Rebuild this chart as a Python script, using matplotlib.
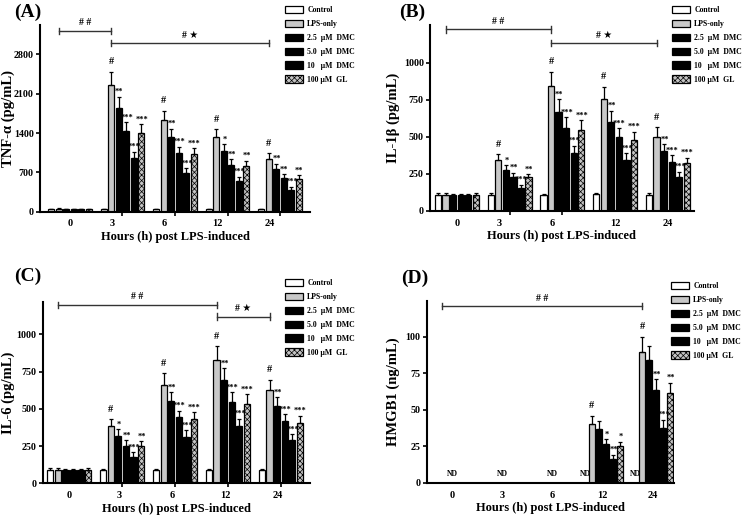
import numpy as np
import matplotlib
matplotlib.use("Agg")
import matplotlib.pyplot as plt
from matplotlib.patches import Patch

plt.rcParams['font.family'] = ['Liberation Serif', 'DejaVu Sans']
plt.rcParams['font.weight'] = 'bold'
plt.rcParams['hatch.linewidth'] = 0.5

groups = ['0', '3', '6', '12', '24']
series = ['Control', 'LPS-only', '2.5  \u03bcM  DMC', '5.0  \u03bcM  DMC', '10   \u03bcM  DMC', '100 \u03bcM  GL']

# ---------------- data (rows: time groups, cols: series) ----------------
tnf_vals = [[45, 50, 45, 45, 45, 45],
            [40, 2250, 1850, 1440, 960, 1410],
            [40, 1630, 1330, 1040, 690, 1020],
            [40, 1325, 1075, 840, 555, 820],
            [40, 940, 765, 600, 390, 580]]
tnf_errs = [[8, 8, 8, 8, 8, 8],
            [8, 240, 200, 150, 110, 150],
            [8, 170, 150, 115, 85, 110],
            [8, 140, 125, 95, 70, 90],
            [8, 100, 85, 65, 55, 70]]
tnf_stars = [['', '', '', '', '', ''],
             ['', '#', '**', '***', '***', '***'],
             ['', '#', '**', '***', '***', '***'],
             ['', '#', '*', '**', '***', '**'],
             ['', '#', '**', '**', '***', '**']]

il1_vals = [[108, 110, 105, 105, 105, 108],
            [108, 345, 277, 231, 157, 227],
            [105, 842, 669, 561, 389, 546],
            [112, 753, 602, 497, 344, 478],
            [108, 501, 404, 332, 231, 321]]
il1_errs = [[12, 12, 12, 12, 12, 12],
            [10, 38, 32, 27, 20, 22],
            [10, 97, 84, 70, 51, 67],
            [10, 85, 74, 60, 45, 56],
            [10, 63, 45, 45, 34, 38]]
il1_stars = [['', '', '', '', '', ''],
             ['', '#', '*', '**', '***', '**'],
             ['', '#', '**', '***', '***', '***'],
             ['', '#', '**', '***', '***', '***'],
             ['', '#', '**', '***', '***', '***']]

il6_vals = [[90, 92, 88, 88, 88, 90],
            [90, 384, 319, 252, 178, 248],
            [88, 663, 554, 442, 312, 429],
            [90, 830, 693, 548, 385, 535],
            [88, 625, 520, 415, 290, 405]]
il6_errs = [[10, 10, 10, 10, 10, 10],
            [8, 47, 43, 38, 30, 33],
            [8, 74, 58, 45, 45, 47],
            [8, 90, 78, 62, 48, 62],
            [8, 70, 58, 50, 40, 48]]
il6_stars = [['', '', '', '', '', ''],
             ['', '#', '*', '**', '***', '**'],
             ['', '#', '**', '***', '***', '***'],
             ['', '#', '**', '***', '***', '***'],
             ['', '#', '**', '***', '***', '***']]

hmg_vals = [[0, 0, 0, 0, 0, 0],
            [0, 0, 0, 0, 0, 0],
            [0, 0, 0, 0, 0, 0],
            [0, 40.4, 37.0, 26.7, 16.4, 25.1],
            [0, 89.9, 84.5, 63.7, 37.7, 61.4]]
hmg_errs = [[0, 0, 0, 0, 0, 0],
            [0, 0, 0, 0, 0, 0],
            [0, 0, 0, 0, 0, 0],
            [0, 5.5, 5.7, 3.2, 3.0, 3.2],
            [0, 10.3, 9.5, 7.5, 5.5, 7.3]]
hmg_stars = [['', '', '', '', '', ''],
             ['', '', '', '', '', ''],
             ['', '', '', '', '', ''],
             ['', '#', '', '*', '**', '*'],
             ['', '#', '', '**', '***', '**']]
hmg_nd = [[True] * 6, [True] * 6, [True] * 6,
          [True, False, False, False, False, False],
          [True, False, False, False, False, False]]

face = ['white', '#c8c8c8', 'black', 'black', 'black', '#c4c4c4']
hatch = [None, None, None, None, None, 'xxxxxx']

fig = plt.figure(figsize=(7.45, 5.26), dpi=100)
W, H = 745.0, 526.0


def add_ax(l, r, b, t):
    return fig.add_axes([l / W, 1 - b / H, (r - l) / W, (b - t) / H])


def panel(ax, vals, errs, stars, ylim, yticks, xlim, label_off, ylabel,
          brackets, pitch=0.143, bw=0.118, nd=None, ax_h=186.0):
    vals = np.array(vals, dtype=float)
    errs = np.array(errs, dtype=float)
    ng, ns = vals.shape
    gx = np.arange(ng)
    for j in range(ns):
        x = gx + (j - (ns - 1) / 2) * pitch
        mask = np.ones(ng, bool) if nd is None else ~np.array([nd[g][j] for g in range(ng)])
        ax.bar(x[mask], vals[mask, j], width=bw, color=face[j], edgecolor='black',
               linewidth=0.9, hatch=hatch[j], zorder=2)
        ax.errorbar(x[mask], vals[mask, j], yerr=[np.zeros(mask.sum()), errs[mask, j]],
                    fmt='none', ecolor='black', elinewidth=0.9, capsize=1.6, capthick=0.9, zorder=3)
        for g in range(ng):
            s = stars[g][j]
            if s and mask[g]:
                top = vals[g, j] + errs[g, j]
                if s == '#':
                    ax.annotate(s, (x[g], top), xytext=(0, 4), textcoords='offset points',
                                ha='center', va='bottom', fontsize=7.5, fontweight='bold')
                else:
                    ax.annotate(s, (x[g] + 0.01, top), xytext=(0, 0.5), textcoords='offset points',
                                ha='center', va='bottom', fontsize=6, fontweight='bold')
            if nd is not None and nd[g][j] and (j == 0):
                xx = x[g] if g >= 3 else gx[g]
                ax.text(xx, ylim[1] * 0.048, 'ND', ha='center', va='center', fontsize=5.5,
                        fontweight='bold')
    ax.set_xlim(*xlim)
    ax.set_ylim(*ylim)
    ax.set_yticks(yticks)
    ax.set_yticklabels([str(v) for v in yticks], fontsize=7.2, fontweight='bold')
    ax.set_xticks(gx, minor=True)
    ax.set_xticks(gx + np.array(label_off))
    ax.set_xticklabels(groups, fontsize=7.5, fontweight='bold')
    ax.tick_params(axis='x', which='major', length=0, pad=5.5)
    ax.tick_params(axis='x', which='minor', length=3, width=1.2, direction='out')
    ax.tick_params(axis='y', length=3, width=1.2, pad=1.5)
    for sp in ['top', 'right']:
        ax.spines[sp].set_visible(False)
    for sp in ['left', 'bottom']:
        ax.spines[sp].set_linewidth(1.5)
    ax.set_xlabel('Hours (h) post LPS-induced', fontsize=9, fontweight='bold', labelpad=2)
    ax.set_ylabel(ylabel, fontsize=10.5, fontweight='bold')
    # brackets
    dy = (ylim[1] - ylim[0]) / ax_h * 3.2
    for (g1, g2, yb, txt) in brackets:
        x1 = g1 + (1 - 2.5) * pitch
        x2 = g2 + (1 - 2.5) * pitch
        ax.plot([x1, x2], [yb, yb], color='#333333', lw=1.0, clip_on=False)
        for xe in (x1, x2):
            ax.plot([xe, xe], [yb - dy, yb + dy], color='#333333', lw=1.0, clip_on=False)
        ax.annotate(txt, ((x1 + x2) / 2, yb), xytext=(0, 2.5), textcoords='offset points',
                    ha='center', va='bottom', fontsize=7, fontweight='bold', annotation_clip=False)
    handles = [Patch(facecolor=face[j], edgecolor='black', linewidth=0.9, hatch=hatch[j])
               for j in range(ns)]
    return handles


def legend(handles, x_px, y_px):
    fig.legend(handles, series, loc='upper left',
               bbox_to_anchor=(x_px / W, 1 - y_px / H), frameon=False,
               prop={'family': ['Liberation Serif'], 'weight': 'bold', 'size': 5.6},
               handlelength=2.35, handleheight=1.05, handletextpad=0.5,
               labelspacing=0.72, borderpad=0, borderaxespad=0)


def letter(text, x_px, y_px):
    fig.text(x_px / W, 1 - y_px / H, text, fontsize=14, fontweight='bold',
             ha='left', va='center')


axA = add_ax(40, 310, 211.7, 25)
hA = panel(axA, tnf_vals, tnf_errs, tnf_stars, (0, 3325), [0, 700, 1400, 2100, 2800],
           (-0.57, 4.57), [0, -0.2, -0.2, -0.2, -0.2], 'TNF-\u03b1 (pg/mL)',
           [(0, 1, 3219, '# #'), (1, 4, 3005, '# \u2605')], ax_h=186.7)
axA.yaxis.set_label_coords(-0.094, 0.5)
legend(hA, 285, 6)
letter('(A)', 14, 12)

axB = add_ax(430, 693.7, 211, 25)
hB = panel(axB, il1_vals, il1_errs, il1_stars, (0, 1253), [0, 250, 500, 750, 1000],
           (-0.51, 4.49), [0, -0.2, -0.2, 0, 0], 'IL-1\u03b2 (pg/mL)',
           [(0, 2, 1224, '# #'), (2, 4, 1130, '# \u2605')], ax_h=186)
axB.yaxis.set_label_coords(-0.112, 0.5)
legend(hB, 672, 6)
letter('(B)', 399, 12)

axC = add_ax(42.7, 310, 483.3, 301.5)
hC = panel(axC, il6_vals, il6_errs, il6_stars, (0, 1220), [0, 250, 500, 750, 1000],
           (-0.5, 4.55), [0, -0.05, -0.05, -0.05, -0.05], 'IL-6 (pg/mL)',
           [(0, 3, 1197, '# #'), (3, 4, 1119, '# \u2605')], ax_h=181.8)
axC.yaxis.set_label_coords(-0.105, 0.5)
legend(hC, 285, 279)
letter('(C)', 14, 276)

axD = add_ax(427, 673.7, 483, 301.3)
hD = panel(axD, hmg_vals, hmg_errs, hmg_stars, (0, 124.4), [0, 25, 50, 75, 100],
           (-0.5, 4.42), [0, 0, 0, 0, 0], 'HMGB1 (ng/mL)',
           [(0, 4, 121, '# #')], pitch=0.14, nd=hmg_nd, ax_h=181.7)
axD.yaxis.set_label_coords(-0.108, 0.5)
legend(hD, 671, 282)
letter('(D)', 401, 278)

fig.savefig('out.png', dpi=100)
